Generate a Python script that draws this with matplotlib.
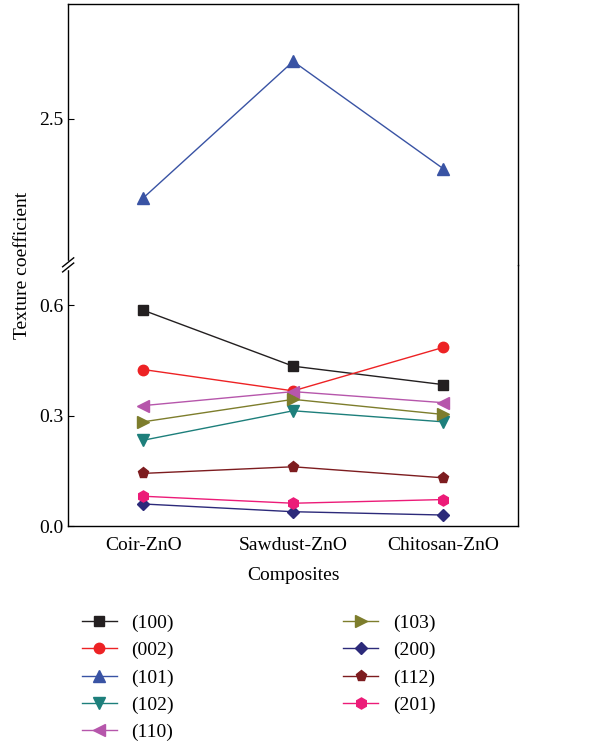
import numpy as np
import matplotlib
matplotlib.use("Agg")
import matplotlib.pyplot as plt
from matplotlib.lines import Line2D

plt.rcParams['font.family'] = ['Liberation Serif', 'DejaVu Serif']

composites = ['Coir-ZnO', 'Sawdust-ZnO', 'Chitosan-ZnO']
planes = ['(100)', '(002)', '(101)', '(102)', '(110)', '(103)', '(200)', '(112)', '(201)']

tc_100 = [0.586, 0.434, 0.384]
tc_002 = [0.425, 0.367, 0.485]
tc_101 = [2.284, 2.656, 2.364]
tc_102 = [0.233, 0.313, 0.283]
tc_110 = [0.327, 0.365, 0.335]
tc_103 = [0.283, 0.344, 0.303]
tc_200 = [0.060, 0.039, 0.030]
tc_112 = [0.143, 0.161, 0.131]
tc_201 = [0.081, 0.062, 0.072]

values = [tc_100, tc_002, tc_101, tc_102, tc_110, tc_103, tc_200, tc_112, tc_201]
colors = ['#231f20', '#ed2224', '#3953a4', '#1d7f7b', '#b656ab',
          '#7d7d2c', '#2c2a7a', '#7d1c1f', '#ec1b78']
markers = ['s', 'o', '^', 'v', '<', '>', 'D', 'p', 'h']
msizes = [6.5, 7.5, 8, 8, 8, 8, 6.5, 8, 8]

fig = plt.figure(figsize=(6.14, 7.42), dpi=100)
ax_lo = fig.add_axes([0.111, 0.291, 0.733, 0.352])
ax_hi = fig.add_axes([0.111, 0.643, 0.733, 0.352])

x = np.arange(len(composites))
for vals, c, m, ms in zip(values, colors, markers, msizes):
    for ax in (ax_lo, ax_hi):
        ax.plot(x, vals, color=c, marker=m, markersize=ms, lw=1.0)

ax_lo.set_ylim(0, 0.709)
ax_hi.set_ylim(2.102, 2.813)
for ax in (ax_lo, ax_hi):
    ax.set_xlim(-0.5, 2.5)
    ax.tick_params(axis='y', direction='in', length=4, labelsize=14, width=0.8)
    for s in ax.spines.values():
        s.set_linewidth(1.0)

ax_lo.set_yticks([0.0, 0.3, 0.6])
ax_lo.set_yticklabels(['0.0', '0.3', '0.6'])
ax_hi.set_yticks([2.5])
ax_hi.set_yticklabels(['2.5'])

ax_lo.spines['top'].set_visible(False)
ax_hi.spines['bottom'].set_visible(False)
ax_hi.set_xticks([])
ax_lo.set_xticks(x)
ax_lo.set_xticklabels(composites, fontsize=14)
ax_lo.tick_params(axis='x', length=0, pad=8)
ax_lo.set_xlabel('Composites', fontsize=14, labelpad=9)

fig.text(0.036, 0.643, 'Texture coefficient', rotation=90, fontsize=14,
         ha='center', va='center')

# break marks on the left axis
bx = 0.111
by = 0.643
fig.patches.append(plt.Rectangle((bx - 0.006, by - 0.005), 0.012, 0.010,
                                 transform=fig.transFigure, color='white', zorder=5))
for dy in (-0.0035, 0.0035):
    fig.add_artist(Line2D([bx - 0.009, bx + 0.009], [by + dy - 0.006, by + dy + 0.006],
                          transform=fig.transFigure, color='black', lw=1.0, zorder=6))

handles = [Line2D([], [], color=c, marker=m, markersize=ms, lw=1.0)
           for c, m, ms in zip(colors, markers, msizes)]
fig.legend(handles, planes, loc='upper left', bbox_to_anchor=(0.105, 0.196),
           ncol=2, frameon=False, fontsize=14, handlelength=1.8,
           columnspacing=8.7, labelspacing=0.5, handletextpad=0.75)

fig.savefig('out.png', dpi=100)
